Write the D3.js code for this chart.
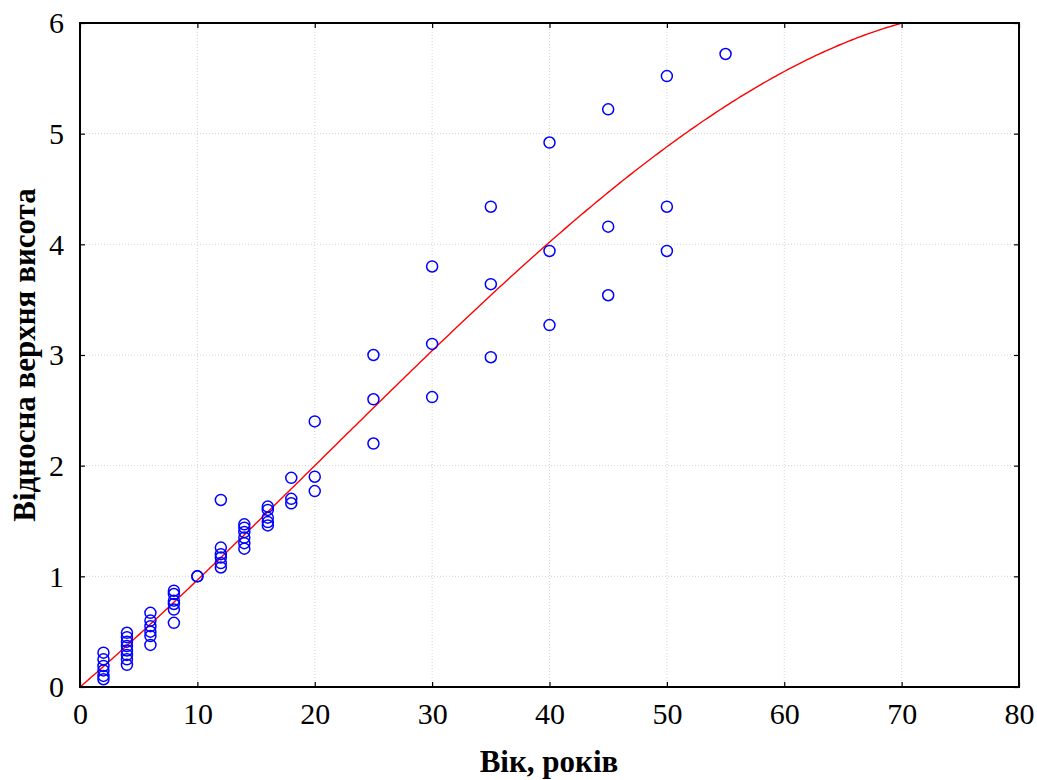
<!DOCTYPE html>
<html>
<head>
<meta charset="utf-8">
<script src="https://cdn.jsdelivr.net/npm/d3@7"></script>
<style>
  html, body { margin: 0; padding: 0; background: #fff; }
  svg { display: block; }
</style>
</head>
<body>
<svg id="chart" width="1037" height="780"></svg>
<script>
// Observed ages (years) and relative top height values
const ages = [
  2, 2, 2, 2, 2, 2,
  4, 4, 4, 4, 4, 4, 4, 4,
  6, 6, 6, 6, 6, 6,
  8, 8, 8, 8, 8, 8,
  10, 10,
  12, 12, 12, 12, 12, 12,
  14, 14, 14, 14, 14, 14,
  16, 16, 16, 16, 16,
  18, 18, 18,
  20, 20, 20,
  25, 25, 25,
  30, 30, 30,
  35, 35, 35,
  40, 40, 40,
  45, 45, 45,
  50, 50, 50,
  55
];
const heights = [
  0.31, 0.25, 0.19, 0.15, 0.10, 0.07,
  0.49, 0.45, 0.41, 0.37, 0.33, 0.29, 0.25, 0.20,
  0.67, 0.60, 0.55, 0.50, 0.46, 0.38,
  0.87, 0.84, 0.78, 0.75, 0.70, 0.58,
  1.00, 1.00,
  1.69, 1.26, 1.20, 1.17, 1.12, 1.08,
  1.47, 1.44, 1.40, 1.35, 1.30, 1.25,
  1.63, 1.60, 1.53, 1.49, 1.46,
  1.89, 1.70, 1.66,
  2.40, 1.90, 1.77,
  3.00, 2.60, 2.20,
  3.80, 3.10, 2.62,
  4.34, 3.64, 2.98,
  4.92, 3.94, 3.27,
  5.22, 4.16, 3.54,
  5.52, 4.34, 3.94,
  5.72
];

// Fitted curve coefficients: y = a*x + b*x^2 + c*x^3
const fitCoef = [0.09122, 0.000646, -0.000010357];

const xTicks = [0, 10, 20, 30, 40, 50, 60, 70, 80];
const yTicks = [0, 1, 2, 3, 4, 5, 6];
const xTitle = "Вік, років";
const yTitle = "Відносна верхня висота";

const serif = "Liberation Serif, Times New Roman, serif";
const svg = d3.select("#chart").attr("font-family", serif);
const pL = 80, pR = 1019, pT = 23, pB = 687;

const x = d3.scaleLinear().domain([0, 80]).range([pL, pR]);
const y = d3.scaleLinear().domain([0, 6]).range([pB, pT]);

// Grid
const grid = svg.append("g");
grid.selectAll("line.gx").data(xTicks.slice(1, -1)).join("line")
  .attr("x1", d => x(d)).attr("x2", d => x(d))
  .attr("y1", pT).attr("y2", pB)
  .attr("stroke", "#d4d4d4").attr("stroke-width", 1).attr("stroke-dasharray", "1,2");
grid.selectAll("line.gy").data(yTicks.slice(1, -1)).join("line")
  .attr("y1", d => y(d)).attr("y2", d => y(d))
  .attr("x1", pL).attr("x2", pR)
  .attr("stroke", "#d4d4d4").attr("stroke-width", 1).attr("stroke-dasharray", "1,2");

// Clip region for data
svg.append("clipPath").attr("id", "plotclip")
  .append("rect").attr("x", pL).attr("y", pT)
  .attr("width", pR - pL).attr("height", pB - pT);

// Fitted curve
const curveX = d3.range(0, 80.01, 0.25);
const fit = v => fitCoef[0] * v + fitCoef[1] * v * v + fitCoef[2] * v * v * v;
svg.append("path")
  .datum(curveX)
  .attr("clip-path", "url(#plotclip)")
  .attr("fill", "none")
  .attr("stroke", "#ff0000")
  .attr("stroke-width", 1.4)
  .attr("d", d3.line().x(d => x(d)).y(d => y(fit(d))));

// Points
svg.append("g").selectAll("circle")
  .data(ages.map((a, i) => [a, heights[i]]))
  .join("circle")
  .attr("cx", d => x(d[0]))
  .attr("cy", d => y(d[1]))
  .attr("r", 5.5)
  .attr("fill", "none")
  .attr("stroke", "#0000ff")
  .attr("stroke-width", 1.5);

// Axes with inward ticks on all four sides
const tickLen = 5;
const fmt = d3.format("d");
const axB = svg.append("g").attr("transform", `translate(0,${pB})`)
  .call(d3.axisBottom(x).tickValues(xTicks).tickSizeInner(-tickLen).tickSizeOuter(0).tickPadding(16).tickFormat(fmt));
const axT = svg.append("g").attr("transform", `translate(0,${pT})`)
  .call(d3.axisTop(x).tickValues(xTicks).tickSizeInner(-tickLen).tickSizeOuter(0).tickFormat(""));
const axL = svg.append("g").attr("transform", `translate(${pL},0)`)
  .call(d3.axisLeft(y).tickValues(yTicks).tickSizeInner(-tickLen).tickSizeOuter(0).tickPadding(16).tickFormat(fmt));
const axR = svg.append("g").attr("transform", `translate(${pR},0)`)
  .call(d3.axisRight(y).tickValues(yTicks).tickSizeInner(-tickLen).tickSizeOuter(0).tickFormat(""));

[axB, axT, axL, axR].forEach(g => {
  g.attr("font-family", serif).attr("font-size", 30);
  g.select(".domain").remove();
  g.selectAll(".tick line").attr("stroke", "#000").attr("stroke-width", 1.2);
  g.selectAll(".tick text").attr("fill", "#000");
});
axL.selectAll(".tick text").attr("dy", "0.33em");

// Frame
svg.append("rect")
  .attr("x", pL).attr("y", pT)
  .attr("width", pR - pL).attr("height", pB - pT)
  .attr("fill", "none").attr("stroke", "#000").attr("stroke-width", 2);

// Titles
svg.append("text")
  .attr("x", 549).attr("y", 772)
  .attr("text-anchor", "middle")
  .attr("font-size", 31).attr("font-weight", "bold")
  .text(xTitle);
svg.append("text")
  .attr("transform", `translate(35,${(pT + pB) / 2}) rotate(-90)`)
  .attr("text-anchor", "middle")
  .attr("font-size", 31).attr("font-weight", "bold")
  .text(yTitle);
</script>
</body>
</html>
